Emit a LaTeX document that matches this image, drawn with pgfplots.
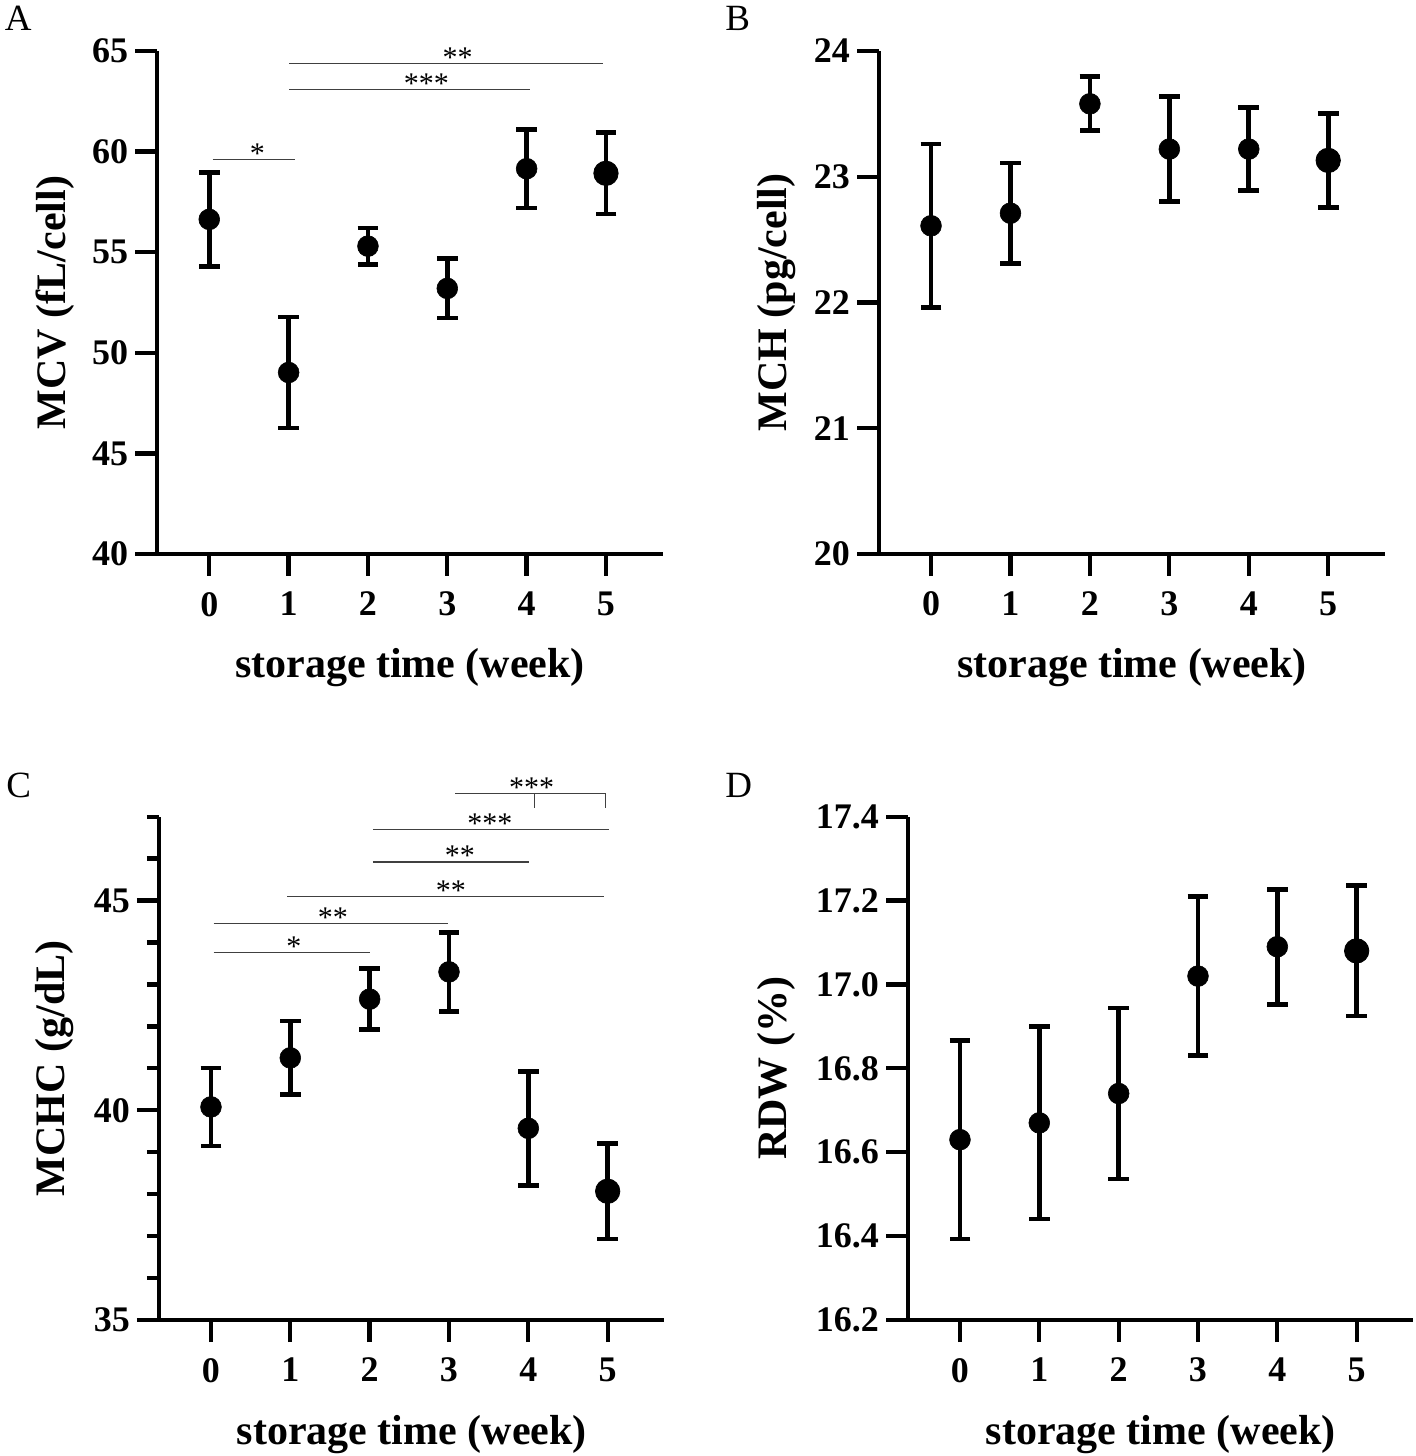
\documentclass[border=0pt]{standalone}
\usepackage{fontspec}
\setmainfont{Liberation Serif}
\usepackage{pgfplots}
\pgfplotsset{compat=1.18}
\usepackage{pgfplotstable}

\pgfplotstableread{
x y e
0 56.63 2.35
1 49.02 2.76
2 55.30 0.90
3 53.20 1.47
4 59.15 1.95
5 58.92 2.02
}\mcv
\pgfplotstableread{
x y e
0 22.61 0.65
1 22.71 0.40
2 23.58 0.215
3 23.22 0.42
4 23.22 0.33
5 23.13 0.375
}\mch
\pgfplotstableread{
x y e
0 40.08 0.93
1 41.25 0.88
2 42.65 0.73
3 43.30 0.94
4 39.57 1.36
5 38.07 1.14
}\mchc
\pgfplotstableread{
x y e
0 16.63 0.237
1 16.67 0.229
2 16.74 0.204
3 17.02 0.19
4 17.09 0.137
5 17.08 0.155
}\rdw

\tikzset{
  sig/.style={line width=0.6pt, black!75},
  star/.style={font=\fontsize{15}{15}\selectfont, anchor=base, inner sep=0pt, yshift=-2pt},
}

\pgfplotsset{
  panel/.style={
    scale only axis,
    width=252.7pt, height=251.5pt,
    xmin=-0.655, xmax=5.715,
    axis x line=bottom, axis y line=left,
    axis line style={line width=2.15pt, -},
    tick align=outside,
    major tick length=11pt,
    minor tick length=6pt,
    tick style={black, line width=2.15pt},
    xtick={0,...,5},
    /pgf/number format/assume math mode=true,
    ticklabel style={font=\fontsize{18}{18}\selectfont\bfseries},
    xticklabel style={yshift=-4.5pt},
    label style={font=\fontsize{21}{21}\selectfont\bfseries},
    xlabel={storage time (week)},
    xlabel style={at={(axis description cs:0.5,0)}, anchor=base, yshift=-62pt},
    clip=false,
  },
  pts/.style={only marks, mark=*, black, mark size=5.2pt,
    mark options={fill=black, line width=0.3pt},
    error bars/.cd, y dir=both, y explicit,
    error bar style={line width=2.4pt, black},
    error mark options={rotate=90, mark size=5.15pt, line width=2.4pt, black}},
  big/.style={only marks, mark=*, black, mark size=6.1pt, mark options={fill=black}, restrict x to domain=4.5:5.5},
}

\begin{document}
\begin{tikzpicture}
\useasboundingbox (0,0) rectangle (708pt,728pt);

\node[anchor=base west, inner sep=0pt, font=\fontsize{18.5}{18.5}\selectfont] at (2.25pt,712.5pt) {A};
\node[anchor=base west, inner sep=0pt, font=\fontsize{18.5}{18.5}\selectfont] at (362.5pt,712.5pt) {B};
\node[anchor=base west, inner sep=0pt, font=\fontsize{18.5}{18.5}\selectfont] at (3pt,329pt) {C};
\node[anchor=base west, inner sep=0pt, font=\fontsize{18.5}{18.5}\selectfont] at (362.5pt,329pt) {D};

% Panel A
\begin{axis}[panel, at={(78.65pt,451pt)}, anchor=south west,
  ymin=40, ymax=65, ytick={40,45,50,55,60,65},
  ylabel={MCV (fL/cell)},
  ylabel style={at={(axis description cs:-0.2018,0.5)}, anchor=center}]
\addplot+[pts] table[x=x, y=y, y error=e] {\mcv};
\addplot+[big] table[x=x, y=y] {\mcv};
\draw[sig] (axis cs:0.043,59.62) -- (axis cs:1.08,59.62);
\node[star] at (axis cs:0.605,59.62) {*};
\draw[sig] (axis cs:1.008,63.10) -- (axis cs:4.04,63.10);
\node[star] at (axis cs:2.735,63.10) {***};
\draw[sig] (axis cs:1.008,64.38) -- (axis cs:4.96,64.38);
\node[star] at (axis cs:3.13,64.38) {**};
\end{axis}

% Panel B
\begin{axis}[panel, at={(439.5pt,451pt)}, anchor=south west, width=253pt,
  ymin=20, ymax=24, ytick={20,21,22,23,24},
  ylabel={MCH (pg/cell)},
  ylabel style={at={(axis description cs:-0.2016,0.5)}, anchor=center}]
\addplot+[pts] table[x=x, y=y, y error=e] {\mch};
\addplot+[big] table[x=x, y=y] {\mch};
\end{axis}

% Panel C
\begin{axis}[panel, at={(79.5pt,68pt)}, anchor=south west, height=251.65pt,
  ymin=35, ymax=47, ytick={35,40,45},
  minor ytick={36,37,38,39,41,42,43,44,46,47},
  ylabel={MCHC (g/dL)},
  ylabel style={at={(axis description cs:-0.207,0.5)}, anchor=center}]
\addplot+[pts] table[x=x, y=y, y error=e] {\mchc};
\addplot+[big] table[x=x, y=y] {\mchc};
\draw[sig] (axis cs:0.034,43.77) -- (axis cs:2.01,43.77);
\node[star] at (axis cs:1.046,43.77) {*};
\draw[sig] (axis cs:0.034,44.46) -- (axis cs:2.986,44.46);
\node[star] at (axis cs:1.535,44.46) {**};
\draw[sig] (axis cs:0.961,45.10) -- (axis cs:4.948,45.10);
\node[star] at (axis cs:3.025,45.10) {**};
\draw[sig] (axis cs:2.04,45.92) -- (axis cs:4.01,45.92);
\node[star] at (axis cs:3.137,45.92) {**};
\draw[sig] (axis cs:2.04,46.70) -- (axis cs:5.02,46.70);
\node[star] at (axis cs:3.514,46.70) {***};
\draw[sig] (axis cs:3.08,47.55) -- (axis cs:4.976,47.55) -- (axis cs:4.976,47.21);
\draw[sig] (axis cs:4.077,47.55) -- (axis cs:4.077,47.21);
\node[star] at (axis cs:4.04,47.55) {***};
\end{axis}

% Panel D
\begin{axis}[panel, at={(454pt,68pt)}, anchor=south west, height=251.65pt,
  ymin=16.2, ymax=17.4,
  ytick={16.2,16.4,16.6,16.8,17.0,17.2,17.4},
  yticklabels={16.2,16.4,16.6,16.8,17.0,17.2,17.4},
  ylabel={RDW (\%)},
  ylabel style={at={(axis description cs:-0.261,0.5)}, anchor=center}]
\addplot+[pts] table[x=x, y=y, y error=e] {\rdw};
\addplot+[big] table[x=x, y=y] {\rdw};
\end{axis}
\end{tikzpicture}
\end{document}
